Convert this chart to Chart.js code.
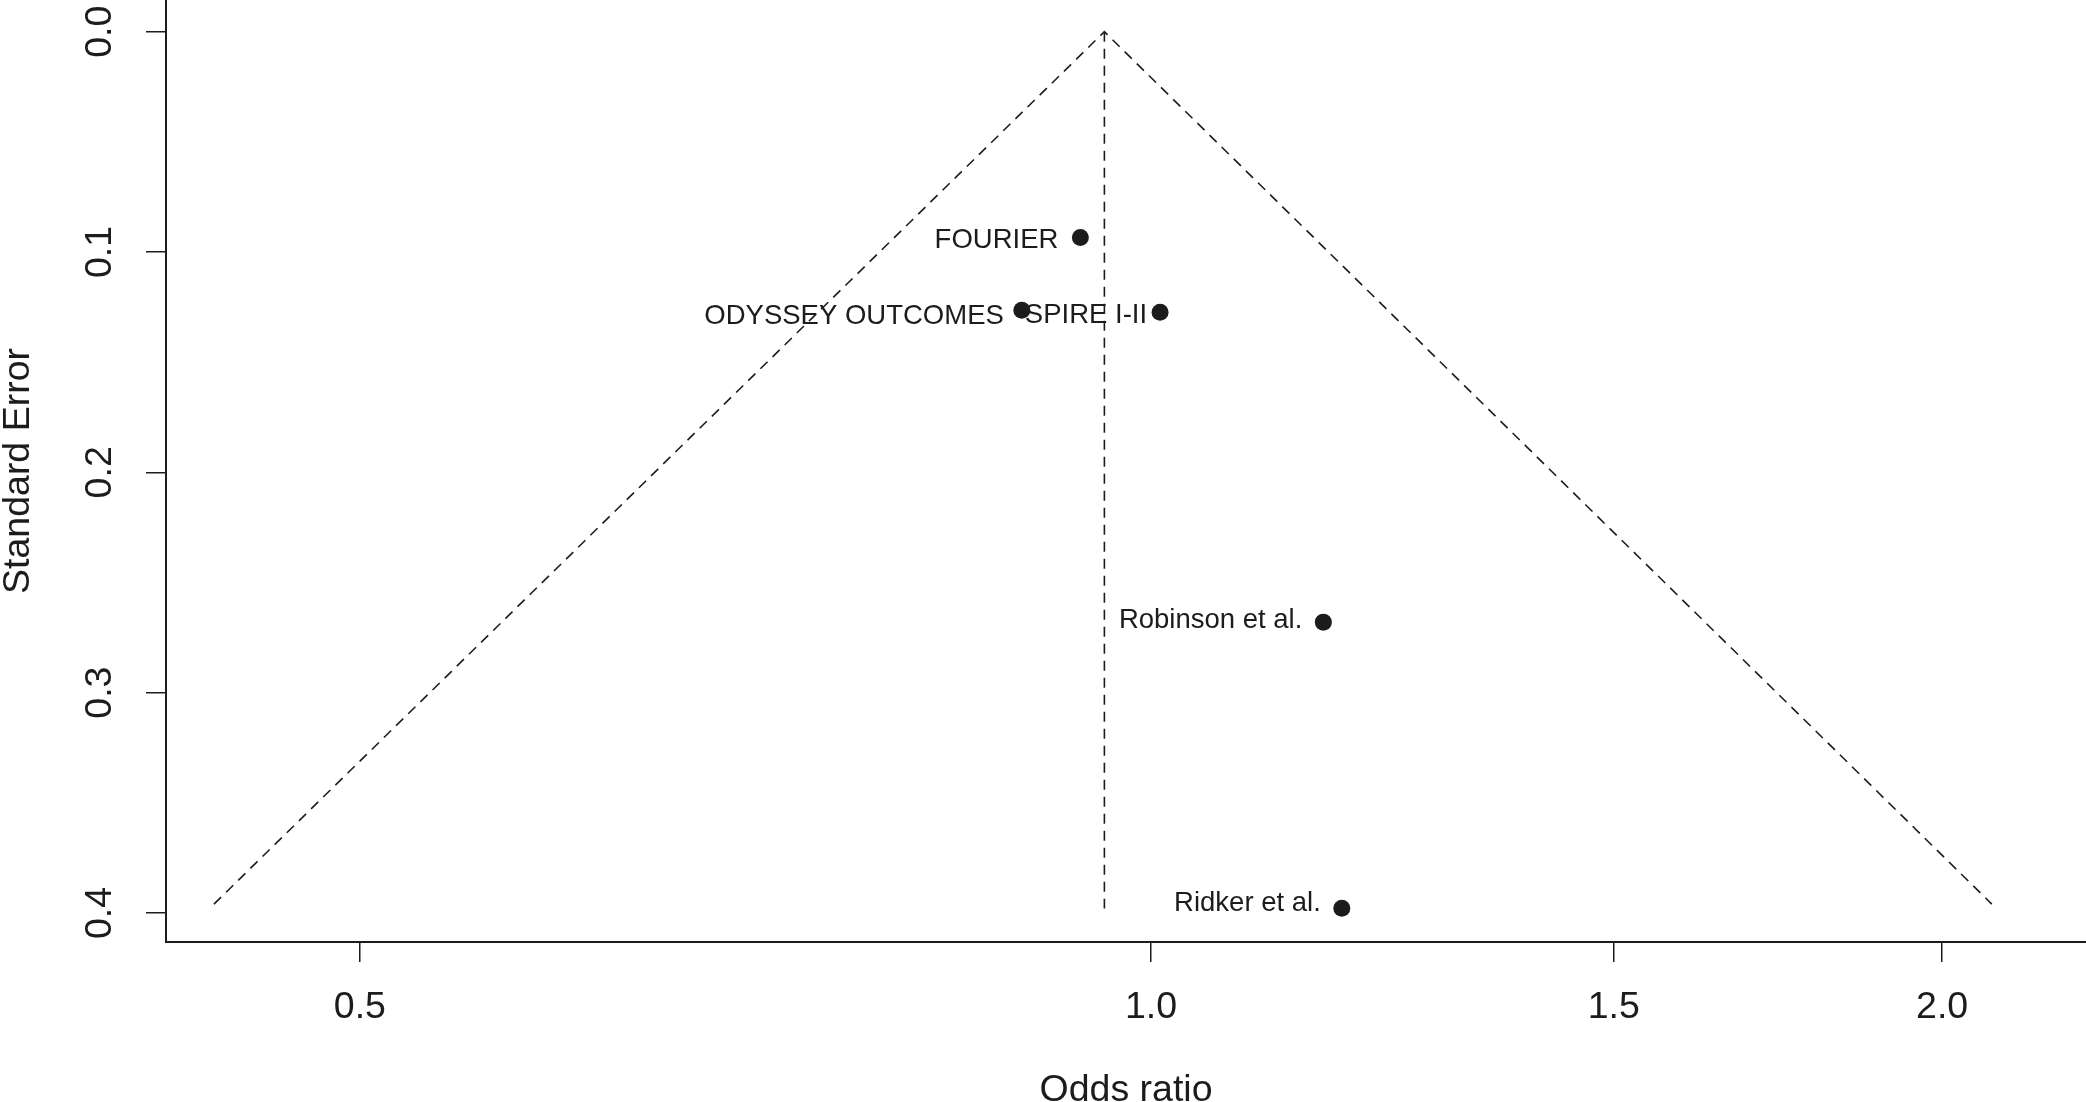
<!DOCTYPE html>
<html>
<head>
<meta charset="utf-8">
<script src="https://cdn.jsdelivr.net/npm/chart.js@4.4.1/dist/chart.umd.min.js"></script>
<style>
  html, body { margin: 0; padding: 0; background: #fff; }
  #wrap { width: 2086px; height: 1102px; }
</style>
</head>
<body>
<div id="wrap"><canvas id="funnel" width="2086" height="1102"></canvas></div>
<script>
// Studi (odds ratio vs standard error)
const studyNames = ['FOURIER', 'ODYSSEY OUTCOMES', 'SPIRE I-II', 'Robinson et al.', 'Ridker et al.'];
const studyOR = [0.940, 0.893, 1.008, 1.163, 1.182];
const studySE = [0.0934, 0.1264, 0.1273, 0.2680, 0.3979];

// Garis funnel dan garis tengah
const funnelOR = [0.440, 0.960, 2.089];
const funnelSE = [0.396, 0, 0.396];
const centerOR = [0.960, 0.960];
const centerSE = [0, 0.398];

const xTicks = [0.5, 1.0, 1.5, 2.0];
const yTicks = [0, 0.1, 0.2, 0.3, 0.4];

const ink = '#1c1c1c';
const fontFamily = '"Liberation Sans", Arial, sans-serif';
Chart.defaults.font.family = fontFamily;

function toPoints(xs, ys) {
    return xs.map((x, i) => ({ x: x, y: ys[i] }));
}

// Plugin untuk menulis nama studi di kiri titik
const studyLabels = {
    id: 'studyLabels',
    afterDatasetsDraw(chart, args, opts) {
        const meta = chart.getDatasetMeta(0);
        const ctx = chart.ctx;
        ctx.save();
        ctx.font = '27.5px ' + fontFamily;
        ctx.fillStyle = ink;
        ctx.textAlign = 'right';
        ctx.textBaseline = 'middle';
        meta.data.forEach((pt, i) => {
            ctx.fillText(studyNames[i], pt.x - opts.dx[i], pt.y + opts.dy[i]);
        });
        ctx.restore();
    }
};

const axisFont = { size: 37.5, lineHeight: 1 };
const dashed = {
    showLine: true,
    pointRadius: 0,
    borderColor: ink,
    borderWidth: 1.6,
    borderDash: [10, 7],
    fill: false,
    tension: 0
};

new Chart(document.getElementById('funnel'), {
    type: 'scatter',
    data: {
        datasets: [
            {
                data: toPoints(studyOR, studySE),
                pointRadius: 8.5,
                pointBackgroundColor: ink,
                pointBorderWidth: 0
            },
            Object.assign({ data: toPoints(funnelOR, funnelSE) }, dashed),
            Object.assign({ data: toPoints(centerOR, centerSE) }, dashed)
        ]
    },
    options: {
        responsive: false,
        animation: false,
        layout: { padding: 0, autoPadding: false },
        plugins: {
            legend: { display: false },
            tooltip: { enabled: false },
            studyLabels: {
                dx: [22, 18, 13, 21, 21],
                dy: [3, 6, 3.5, -1.5, -4.5]
            }
        },
        scales: {
            x: {
                type: 'logarithmic',
                min: 0.4219,
                max: 2.2687,
                afterBuildTicks: s => { s.ticks = xTicks.map(v => ({ value: v })); },
                ticks: {
                    autoSkip: false,
                    minRotation: 0,
                    maxRotation: 0,
                    padding: 23,
                    font: { size: 37.5 },
                    color: ink,
                    callback: v => Number(v).toFixed(1)
                },
                grid: { drawOnChartArea: false, drawTicks: true, tickLength: 20, color: ink, lineWidth: 1.5 },
                border: { display: true, color: ink, width: 2 },
                title: { display: true, text: 'Odds ratio', font: axisFont, color: ink, padding: { top: 0, bottom: -7 } },
                afterFit: s => { s.height = 160; s.paddingLeft = 0; s.paddingRight = 0; }
            },
            y: {
                type: 'linear',
                reverse: true,
                min: -0.0144,
                max: 0.4132,
                afterBuildTicks: s => { s.ticks = yTicks.map(v => ({ value: v })); },
                ticks: {
                    minRotation: 90,
                    maxRotation: 90,
                    crossAlign: 'center',
                    padding: 19.5,
                    font: { size: 37.5 },
                    color: ink,
                    callback: v => Number(v).toFixed(1)
                },
                grid: { drawOnChartArea: false, drawTicks: true, tickLength: 20, color: ink, lineWidth: 1.5 },
                border: { display: true, color: ink, width: 2 },
                title: { display: true, text: 'Standard Error', font: axisFont, color: ink, padding: { top: 0, bottom: 0 } },
                afterFit: s => { s.width = 166; s.paddingTop = 0; s.paddingBottom = 0; }
            }
        }
    },
    plugins: [studyLabels]
});
</script>
</body>
</html>
